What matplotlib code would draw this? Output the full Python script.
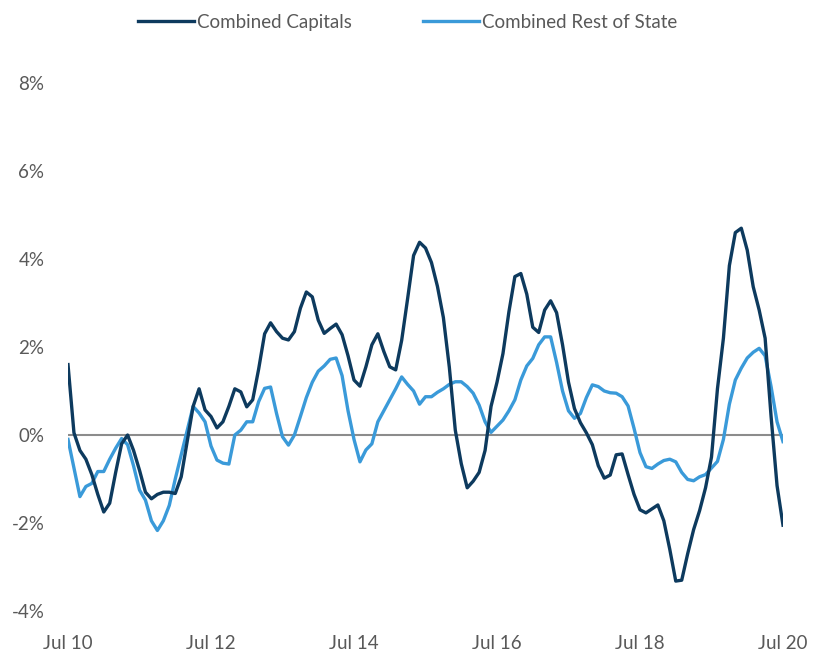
import matplotlib
matplotlib.use("Agg")
import matplotlib.pyplot as plt
import numpy as np

# monthly growth, Jul 2010 .. Jul 2020 (121 months)
capitals = [
    1.60, 0.05, -0.35, -0.55, -0.90, -1.35, -1.75, -1.55, -0.85, -0.20,
    0.00, -0.35, -0.80, -1.30, -1.45, -1.35, -1.30, -1.30, -1.33, -0.95,
    -0.15, 0.65, 1.05, 0.57, 0.42, 0.16, 0.30, 0.65, 1.05, 0.98,
    0.64, 0.80, 1.50, 2.30, 2.55, 2.35, 2.20, 2.16, 2.35, 2.88,
    3.25, 3.14, 2.61, 2.31, 2.42, 2.52, 2.28, 1.80, 1.25, 1.11,
    1.55, 2.05, 2.30, 1.90, 1.55, 1.48, 2.15, 3.10, 4.08, 4.38,
    4.25, 3.92, 3.38, 2.67, 1.54, 0.11, -0.65, -1.20, -1.05, -0.85,
    -0.35, 0.65, 1.20, 1.85, 2.80, 3.60, 3.67, 3.20, 2.45, 2.33,
    2.84, 3.05, 2.78, 2.05, 1.20, 0.60, 0.28, 0.05, -0.22, -0.70,
    -0.98, -0.91, -0.45, -0.43, -0.90, -1.35, -1.70, -1.77, -1.68, -1.59,
    -1.95, -2.60, -3.32, -3.30, -2.70, -2.15, -1.72, -1.20, -0.50, 1.05,
    2.20, 3.85, 4.60, 4.70, 4.20, 3.37, 2.84, 2.20, 0.42, -1.15,
    -2.05,
]
rest_of_state = [
    -0.10, -0.75, -1.40, -1.17, -1.10, -0.83, -0.83, -0.55, -0.30, -0.08,
    -0.22, -0.70, -1.25, -1.48, -1.95, -2.17, -1.95, -1.60, -1.00, -0.45,
    0.10, 0.65, 0.50, 0.30, -0.25, -0.57, -0.64, -0.66, 0.00, 0.11,
    0.30, 0.30, 0.76, 1.06, 1.09, 0.49, -0.04, -0.23, 0.00, 0.42,
    0.85, 1.20, 1.45, 1.57, 1.72, 1.75, 1.35, 0.55, -0.10, -0.61,
    -0.34, -0.20, 0.30, 0.55, 0.80, 1.05, 1.32, 1.15, 1.00, 0.70,
    0.87, 0.87, 0.97, 1.05, 1.15, 1.21, 1.21, 1.10, 0.95, 0.68,
    0.30, 0.06, 0.20, 0.34, 0.55, 0.80, 1.25, 1.57, 1.74, 2.05,
    2.23, 2.23, 1.65, 1.00, 0.55, 0.38, 0.49, 0.85, 1.14, 1.10,
    1.00, 0.96, 0.95, 0.87, 0.66, 0.15, -0.40, -0.72, -0.76, -0.66,
    -0.58, -0.55, -0.61, -0.85, -1.01, -1.04, -0.95, -0.90, -0.75, -0.60,
    -0.10, 0.70, 1.25, 1.52, 1.75, 1.88, 1.97, 1.80, 1.10, 0.30,
    -0.15,
]
tick_labels = ["Jul 10", "Jul 12", "Jul 14", "Jul 16", "Jul 18", "Jul 20"]

plt.rcParams['font.family'] = ['Lato', 'DejaVu Sans']
text_col = '#595959'

months = np.arange(len(capitals))

fig = plt.figure(figsize=(8.15, 6.53), dpi=100)
ax = fig.add_axes([68/815, 1-611/653, (783-68)/815, (611-83)/653])

ax.axhline(0, color='#8c8c8c', lw=1.5, zorder=1)
ax.plot(months, capitals, color='#0d3a5e', lw=2.4, label='Combined Capitals',
        solid_joinstyle='round', zorder=3)
ax.plot(months, rest_of_state, color='#3a9ad9', lw=2.4, label='Combined Rest of State',
        solid_joinstyle='round', zorder=2)

ax.set_xlim(0, 120)
ax.set_ylim(-4, 8)
ax.set_xticks(np.arange(0, 121, 24))
ax.set_xticklabels(tick_labels)
ax.set_yticks(np.arange(-4, 9, 2))
ax.set_yticklabels([f'{v}%' for v in range(-4, 9, 2)])
ax.tick_params(length=0, labelsize=13.5, colors=text_col)
ax.tick_params(axis='x', pad=17)
ax.tick_params(axis='y', pad=17)
for s in ax.spines.values():
    s.set_visible(False)

fig.legend(loc='upper center', bbox_to_anchor=(0.5, 1.005), ncol=2, frameon=False,
           fontsize=13.5, handlelength=3.0, handletextpad=0.15, columnspacing=3.8,
           labelcolor=text_col)

plt.savefig('out.png', dpi=100)
